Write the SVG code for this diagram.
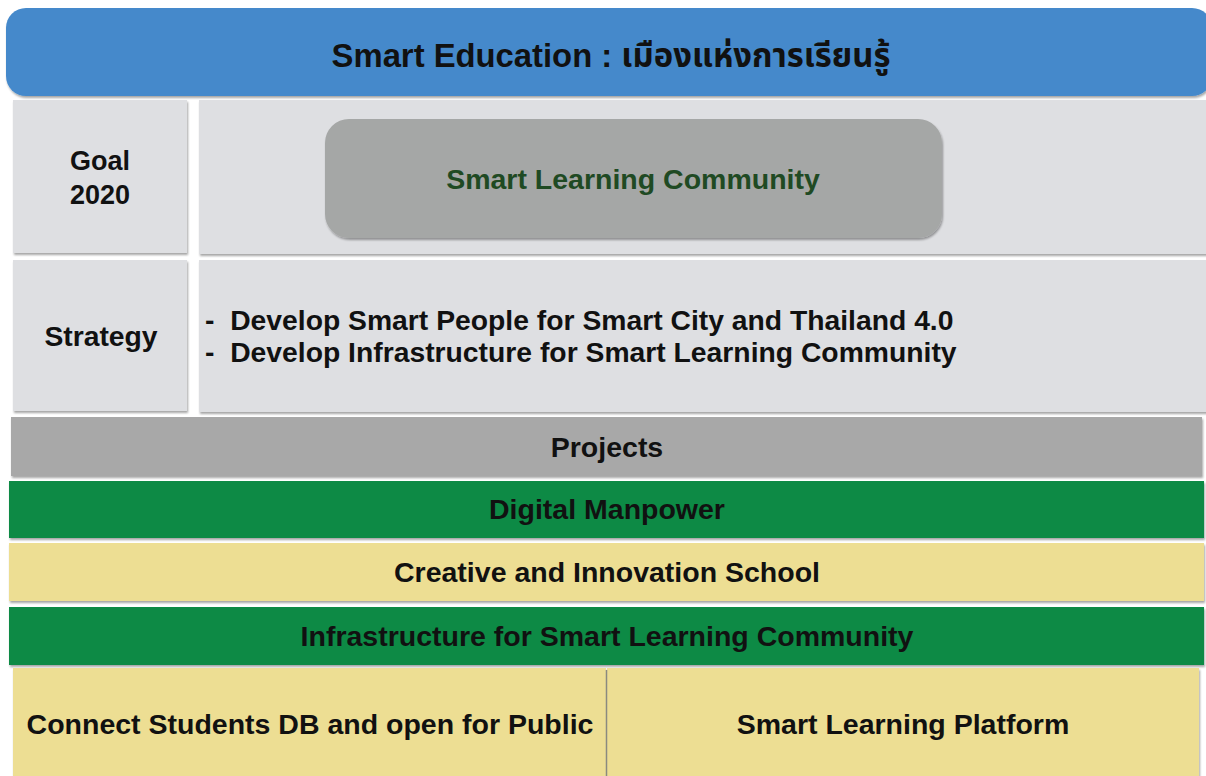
<svg xmlns="http://www.w3.org/2000/svg" width="1206" height="776" viewBox="0 0 1206 776">
  <defs>
    <filter id="sh" x="-5%" y="-10%" width="110%" height="130%">
      <feDropShadow dx="1" dy="2" stdDeviation="1.2" flood-color="#000" flood-opacity="0.35"/>
    </filter>
    <style>
      text { font-family: "Liberation Sans", Arial, "Noto Sans Thai", "DejaVu Sans", sans-serif; font-weight: bold; fill: #111; }
      .c { text-anchor: middle; }
      .panel { fill: #DEDFE2; filter: url(#sh); }
      .green { fill: #0F8A45; filter: url(#sh); }
      .yellow { fill: #EDDE93; filter: url(#sh); }
      .t28 { font-size: 28.5px; }
      .t26 { font-size: 27px; }
      .ts { font-size: 28.3px; }
    </style>
  </defs>
  <rect width="1206" height="776" fill="#FFFFFF"/>

  <g id="title">
    <rect x="6" y="8" width="1206" height="88" rx="20" fill="#4589CB" filter="url(#sh)"/>
    <text class="c" x="611" y="67" font-size="32.8">Smart Education : เมืองแห่งการเรียนรู้</text>
  </g>

  <g id="goal-label">
    <rect class="panel" x="13" y="100" width="174" height="153"/>
    <text class="c t26" x="100" y="170">Goal</text>
    <text class="c t26" x="100" y="204">2020</text>
  </g>

  <g id="goal-content">
    <rect class="panel" x="199" y="100" width="1010" height="154"/>
    <rect x="325" y="119" width="617" height="119" rx="24" fill="#A5A7A6" filter="url(#sh)"/>
    <text class="c t28" x="633" y="189" style="fill:#1F4A23">Smart Learning Community</text>
  </g>

  <g id="strategy-label">
    <rect class="panel" x="13" y="260" width="174" height="151"/>
    <text class="c ts" x="101" y="346">Strategy</text>
  </g>

  <g id="strategy-content">
    <rect class="panel" x="199" y="260" width="1010" height="152"/>
    <text class="ts" x="205" y="330" xml:space="preserve">-  Develop Smart People for Smart City and Thailand 4.0</text>
    <text class="ts" x="205" y="362" xml:space="preserve">-  Develop Infrastructure for Smart Learning Community</text>
  </g>

  <g id="projects">
    <rect x="11" y="417" width="1191" height="59" fill="#A8A8A8" filter="url(#sh)"/>
    <text class="c t28" x="607" y="457">Projects</text>
  </g>

  <g id="digital-manpower">
    <rect class="green" x="9" y="481" width="1195" height="57"/>
    <text class="c t28" x="607" y="519">Digital Manpower</text>
  </g>

  <g id="creative-school">
    <rect class="yellow" x="9" y="543" width="1195" height="58"/>
    <text class="c t28" x="607" y="582">Creative and Innovation School</text>
  </g>

  <g id="infrastructure">
    <rect class="green" x="9" y="607" width="1195" height="58"/>
    <text class="c t28" x="607" y="646">Infrastructure for Smart Learning Community</text>
  </g>

  <g id="connect-students">
    <rect class="yellow" x="13" y="668" width="593" height="112"/>
    <text class="c t28" x="310" y="734">Connect Students DB and open for Public</text>
  </g>

  <g id="smart-platform">
    <rect class="yellow" x="607" y="668" width="592" height="112"/>
    <text class="c t28" x="903" y="734">Smart Learning Platform</text>
  </g>

  <g id="connectors">
    <line x1="606.5" y1="670" x2="606.5" y2="776" stroke="#8A8A80" stroke-width="1.5"/>
  </g>
</svg>
